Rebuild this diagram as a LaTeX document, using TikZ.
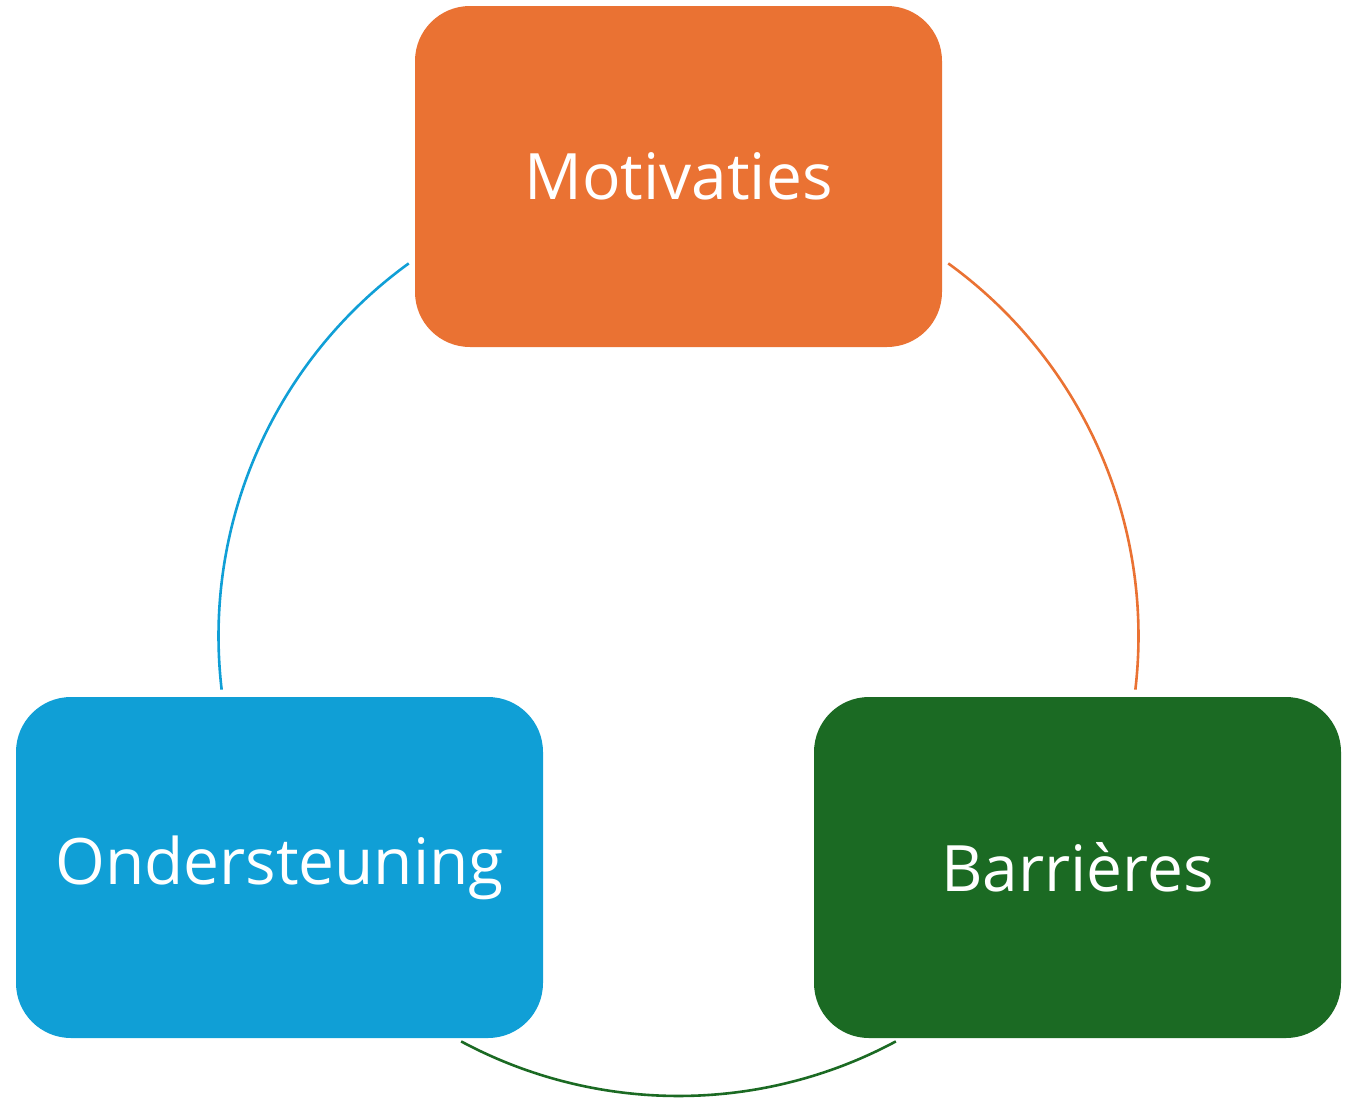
\documentclass[tikz,border=0pt]{standalone}
\usepackage{fontspec}
\setmainfont{Open Sans}
\definecolor{orangeM}{HTML}{EA7233}
\definecolor{blueO}{HTML}{109FD6}
\definecolor{greenB}{HTML}{1B6A23}
\begin{document}
\begin{tikzpicture}[x=1pt,y=1pt,
  box/.style={rounded corners=55pt, minimum width=527pt, minimum height=341pt, inner sep=0pt,
    text=white, font=\fontsize{64}{70}\selectfont},
  link/.style={line width=2.6pt}]
\useasboundingbox (0,0) rectangle (1355,-1098);
\node[box, fill=orangeM] (mot) at (678.5,-176.5) {Motivaties};
\node[box, fill=blueO] (ond) at (279.5,-867.5) {Ondersteuning};
\node[box, fill=greenB] (bar) at (1077.5,-867.5) {Barrières};
\coordinate (c) at (678.5,-636);
\draw[link, orangeM] (c) ++(54.1:460) arc[start angle=54.1, end angle=-6.7, radius=460];
\draw[link, blueO] (c) ++(125.9:460) arc[start angle=125.9, end angle=186.7, radius=460];
\draw[link, greenB] (c) ++(-61.8:460) arc[start angle=-61.8, end angle=-118.2, radius=460];
\end{tikzpicture}
\end{document}
